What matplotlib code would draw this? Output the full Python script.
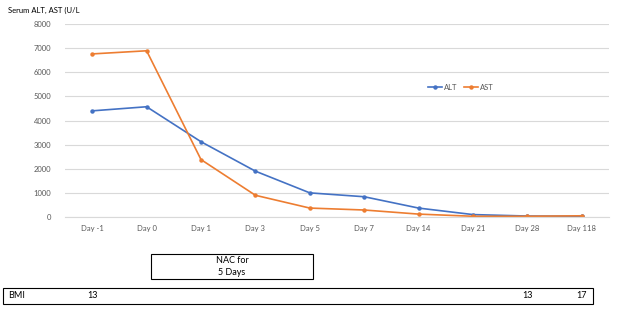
import matplotlib
matplotlib.use("Agg")
import matplotlib.pyplot as plt
from matplotlib.patches import Rectangle

plt.rcParams['font.family'] = ['Lato', 'DejaVu Sans']

days = ["Day -1", "Day 0", "Day 1", "Day 3", "Day 5", "Day 7", "Day 14", "Day 21", "Day 28", "Day 118"]
alt = [4400, 4570, 3120, 1900, 1000, 840, 370, 100, 40, 30]
ast = [6760, 6890, 2380, 900, 370, 290, 120, 30, 30, 50]
yticks = [0, 1000, 2000, 3000, 4000, 5000, 6000, 7000, 8000]
bmi_label = "BMI"
bmi_values = ["13", "13", "17"]
bmi_days = ["Day -1", "Day 28", "Day 118"]
nac_text = "NAC for\n5 Days"

fig = plt.figure(figsize=(6.24, 3.12), dpi=100)
ax = fig.add_axes([65/624, 1-217/312, 544/624, 193/312])

x = list(range(len(days)))
ax.plot(x, alt, color="#4472C4", lw=1.2, marker="o", ms=2.2, label="ALT")
ax.plot(x, ast, color="#ED7D31", lw=1.2, marker="o", ms=2.2, label="AST")

ax.set_xlim(-0.5, len(days) - 0.5)
ax.set_ylim(0, 8000)
ax.set_yticks(yticks)
ax.set_xticks(x)
ax.set_xticklabels(days)
ax.grid(axis="y", color="#D9D9D9", lw=0.8)
ax.set_axisbelow(True)
for s in ["top", "right", "left"]:
    ax.spines[s].set_visible(False)
ax.spines["bottom"].set_color("#D9D9D9")
ax.spines["bottom"].set_linewidth(0.8)
ax.tick_params(axis="both", length=0, labelsize=5.5, labelcolor="#595959")
ax.tick_params(axis="x", pad=6)
ax.tick_params(axis="y", pad=10)

leg = ax.legend(loc="center", frameon=False,
                fontsize=5.5, ncol=2, handlelength=1.8, columnspacing=0.8, handletextpad=0.3,
                borderaxespad=0)
leg.set_bbox_to_anchor(((461-65)/544, (217-87)/193), transform=ax.transAxes)
for t in leg.get_texts():
    t.set_color("#595959")

fig.text(8/624, 1-10/312, "Serum ALT, AST (U/L", fontsize=5.5, va="center", ha="left", color="#000000")

# NAC box
fig.patches.append(Rectangle((151/624, 1-279/312), 162/624, 25/312, transform=fig.transFigure,
                             fill=False, edgecolor="#000000", lw=0.8))
fig.text(232/624, 1-266.5/312, nac_text, fontsize=6.5, ha="center", va="center", linespacing=1.3)

# BMI box
fig.patches.append(Rectangle((3/624, 1-304/312), 590/624, 16/312, transform=fig.transFigure,
                             fill=False, edgecolor="#000000", lw=0.8))
fig.text(8/624, 1-296/312, bmi_label, fontsize=6.5, ha="left", va="center")
for d, v in zip(bmi_days, bmi_values):
    xi = days.index(d)
    xf = ax.transData.transform((xi, 0))[0] / fig.bbox.width
    fig.text(xf, 1-296/312, v, fontsize=6.5, ha="center", va="center")

fig.savefig("out.png", dpi=100)
